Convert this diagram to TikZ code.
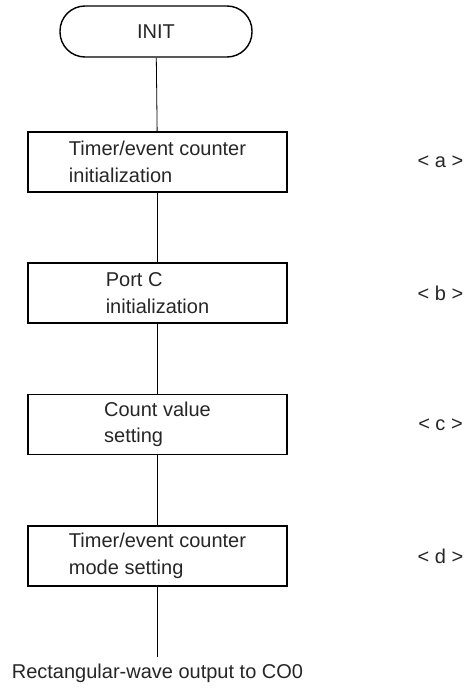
\documentclass[tikz,border=0pt]{standalone}
\usepackage{fontspec}
\setmainfont{Liberation Sans}
\usetikzlibrary{positioning}

\begin{document}
\begin{tikzpicture}[x=1pt, y=-1pt,
  every node/.style={font=\fontsize{20}{26.5}\selectfont, text=black!85},
  terminal/.style={draw, line width=1.4pt, rounded corners=25pt,
    minimum width=192pt, minimum height=51pt},
  stepbox/.style={draw, line width=1.8pt, minimum width=259pt,
    minimum height=60pt, align=left, inner sep=0pt},
  flow/.style={line width=0.8pt}]
  \useasboundingbox (0,0) rectangle (468,688);
  % start of the routine
  \node[terminal] (init) at (156,31.5) {INIT};
  % the four set-up steps, each with its mark on the right
  \foreach \yc/\nm/\txt in {162/a/{Timer/event counter\\initialization},
      293/b/{Port C\\initialization},
      424.5/c/{Count value\\setting},
      556/d/{Timer/event counter\\mode setting}} {
    \node[stepbox] (\nm) at (157.5,\yc) {\txt};
    \node (lab\nm) at (440.5,\yc) {< \nm\ >};
  }
  % connectors
  \draw[flow] (init) -- (a);
  \draw[flow] (a) -- (b);
  \draw[flow] (b) -- (c);
  \draw[flow] (c) -- (d);
  \coordinate (out) at (157.5,657);
  \draw[flow] (d) -- (out);
  \node[below=3pt of out] (outtxt) {Rectangular-wave output to CO0};
\end{tikzpicture}
\end{document}
